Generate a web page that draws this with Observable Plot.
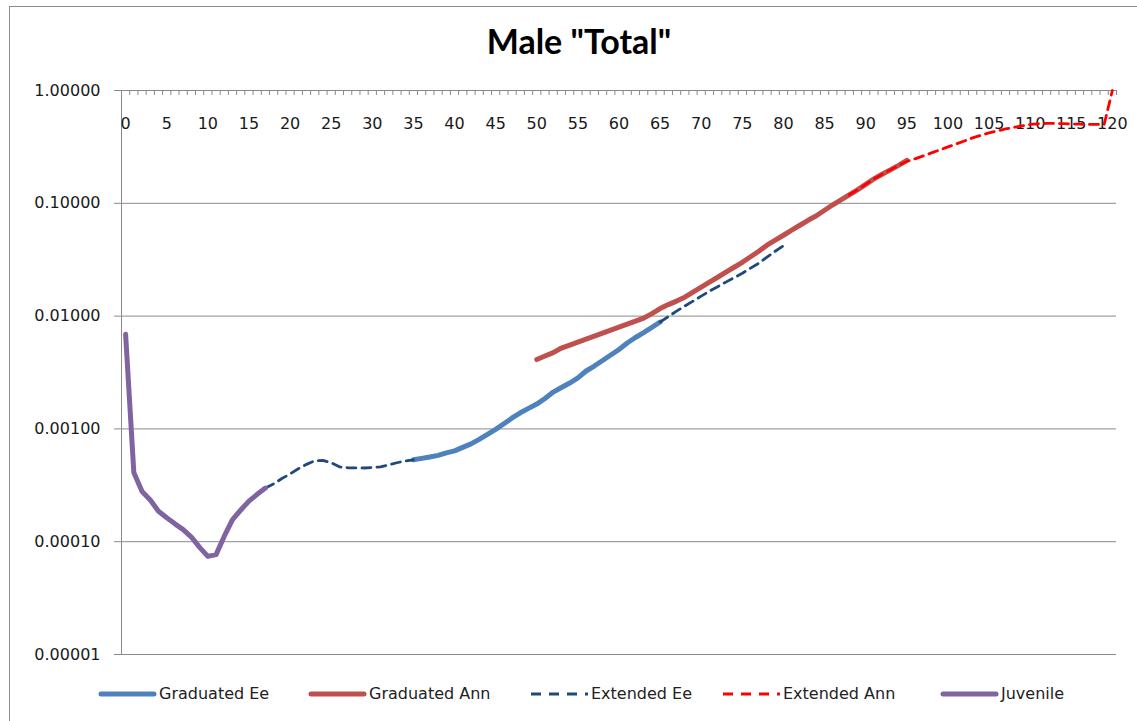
<!DOCTYPE html>
<html><head><meta charset="utf-8">
<script src="https://cdn.jsdelivr.net/npm/d3@7"></script>
<script src="https://cdn.jsdelivr.net/npm/@observablehq/plot@0.6"></script>
<style>
body{margin:0;background:#fff;width:1137px;height:721px;overflow:hidden;position:relative;font-family:"DejaVu Sans",sans-serif;}
#frame{position:absolute;left:9px;top:6px;width:1140px;height:730px;border:1px solid #8c8c8c;box-sizing:border-box}
#title{position:absolute;left:9px;width:1140px;top:22px;text-align:center;font:bold 34px Lato, "DejaVu Sans", sans-serif;line-height:38px;color:#000}
#chart{position:absolute;left:0;top:70px}
.item{position:absolute;top:685px;height:18px;line-height:18px;font-size:16px;color:#222;white-space:nowrap;display:flex;align-items:center}
.item svg{display:block;margin-right:2px}
</style></head>
<body>
<div id="frame"></div>
<div id="title">Male "Total"</div>
<div id="chart"></div>
<div id="legend"></div>
<script>
// ---- data ----
const xTickLabels = [0,5,10,15,20,25,30,35,40,45,50,55,60,65,70,75,80,85,90,95,100,105,110,115,120];
const yTicks = [1, 0.1, 0.01, 0.001, 0.0001, 0.00001];

const juvenileStart = 0;
const juvenile = [0.0069, 0.00041, 0.000279, 0.000234, 0.000186, 0.000163, 0.000144, 0.000128, 0.000110, 0.0000891, 0.0000741, 0.0000768, 0.000112, 0.000157, 0.000191, 0.000229, 0.000263, 0.000299];

const extEeAStart = 17;
const extEeA = [0.000299, 0.000326, 0.000363, 0.000399, 0.000443, 0.000485, 0.000521, 0.000525, 0.000501, 0.000461, 0.000452, 0.000452, 0.00045, 0.000455, 0.000461, 0.00048, 0.000501, 0.00052, 0.000532];

const gradEeStart = 35;
const gradEe = [0.000532, 0.000548, 0.000564, 0.000582, 0.000613, 0.000639, 0.000686, 0.000736, 0.000807, 0.000894, 0.00099, 0.00111, 0.00125, 0.00139, 0.00152, 0.00166, 0.00186, 0.00212, 0.00233, 0.00255, 0.00283, 0.00326, 0.00361, 0.00404, 0.00452, 0.00506, 0.00577, 0.00646, 0.00715, 0.00794, 0.00886];

const extEeBStart = 65;
const extEeB = [0.00886, 0.0099, 0.01107, 0.01226, 0.01358, 0.01503, 0.01665, 0.01824, 0.02, 0.0219, 0.024, 0.0266, 0.0294, 0.0333, 0.0376, 0.0421];

const gradAnnStart = 50;
const gradAnn = [0.00412, 0.00443, 0.00475, 0.00521, 0.00554, 0.00589, 0.00626, 0.00665, 0.00707, 0.00752, 0.00799, 0.0085, 0.00903, 0.0096, 0.01052, 0.01165, 0.01264, 0.01358, 0.01473, 0.0163, 0.01806, 0.02, 0.0221, 0.0245, 0.0271, 0.03, 0.0336, 0.0376, 0.0425, 0.0471, 0.0521, 0.0577, 0.0639, 0.0707, 0.0775, 0.0867, 0.097, 0.1074, 0.1189, 0.1316, 0.1473, 0.1648, 0.1807, 0.1978, 0.2169, 0.24];

const extAnnStart = 88;
const extAnn = [0.1189, 0.1316, 0.1473, 0.1648, 0.1807, 0.1978, 0.2169, 0.235, 0.248, 0.263, 0.28, 0.297, 0.316, 0.336, 0.357, 0.38, 0.4, 0.421, 0.438, 0.456, 0.471, 0.485, 0.5, 0.507, 0.511, 0.51, 0.508, 0.505, 0.503, 0.5, 0.5, 0.5, 1.0];

const seriesNames = ["Graduated Ee", "Graduated Ann", "Extended Ee", "Extended Ann", "Juvenile"];
const seriesColors = ["#4F81BD", "#C0504D", "#1F497D", "#FF0000", "#8064A2"];
const seriesDashed = [false, false, true, true, false];

// ---- build tables ----
const toRows = (start, vals) => vals.map((v, i) => ({age: start + i, v}));
const xDomain = [-0.5, 120.5];
const catBounds = d3.range(xDomain[0], xDomain[1] + 0.5, 1);

const solid = {strokeWidth: 5, strokeLinecap: "round", strokeLinejoin: "round"};
const dashed = {strokeWidth: 2.8, strokeDasharray: "9,6", strokeLinejoin: "round"};
const gridColor = "#8a8a8a";

const chart = Plot.plot({
  width: 1137, height: 610,
  marginTop: 20, marginBottom: 26, marginLeft: 121, marginRight: 21,
  style: {fontFamily: "DejaVu Sans", fontSize: "16px", color: "#1a1a1a", background: "transparent", overflow: "visible"},
  x: {domain: xDomain, axis: null},
  y: {type: "log", domain: [1e-5, 1], axis: null},
  marks: [
    Plot.gridY(yTicks, {stroke: gridColor, strokeOpacity: 1, insetLeft: -7}),
    Plot.axisY(yTicks, {tickFormat: d3.format(".5f"), tickSize: 0, tickPadding: 21, label: null}),
    Plot.ruleX([xDomain[0]], {stroke: gridColor}),
    Plot.ruleX(catBounds, {stroke: gridColor, insetBottom: 559}),
    Plot.text(xTickLabels, {x: d => d, frameAnchor: "top", dy: 27, fill: "#1a1a1a"}),
    Plot.line(toRows(gradEeStart, gradEe), {x: "age", y: "v", stroke: seriesColors[0], ...solid}),
    Plot.line(toRows(gradAnnStart, gradAnn), {x: "age", y: "v", stroke: seriesColors[1], ...solid}),
    Plot.line(toRows(extEeAStart, extEeA), {x: "age", y: "v", stroke: seriesColors[2], ...dashed}),
    Plot.line(toRows(extEeBStart, extEeB), {x: "age", y: "v", stroke: seriesColors[2], ...dashed}),
    Plot.line(toRows(extAnnStart, extAnn), {x: "age", y: "v", stroke: seriesColors[3], ...dashed}),
    Plot.line(toRows(juvenileStart, juvenile), {x: "age", y: "v", stroke: seriesColors[4], ...solid})
  ]
});
document.getElementById("chart").appendChild(chart);

// ---- legend ----
const legendLeft = [98, 308, 530, 722, 940];
const legend = document.getElementById("legend");
seriesNames.forEach((name, i) => {
  const div = document.createElement("div");
  div.className = "item";
  div.style.left = legendLeft[i] + "px";
  const dash = seriesDashed[i] ? 'stroke-dasharray="10,8"' : 'stroke-linecap="round"';
  const sw = seriesDashed[i] ? 2.8 : 5;
  div.innerHTML = `<svg width="59" height="18"><line x1="${seriesDashed[i] ? 1 : 3}" y1="9" x2="${seriesDashed[i] ? 58 : 56}" y2="9" stroke="${seriesColors[i]}" stroke-width="${sw}" ${dash}/></svg><span>${name}</span>`;
  legend.appendChild(div);
});
</script>
</body></html>
